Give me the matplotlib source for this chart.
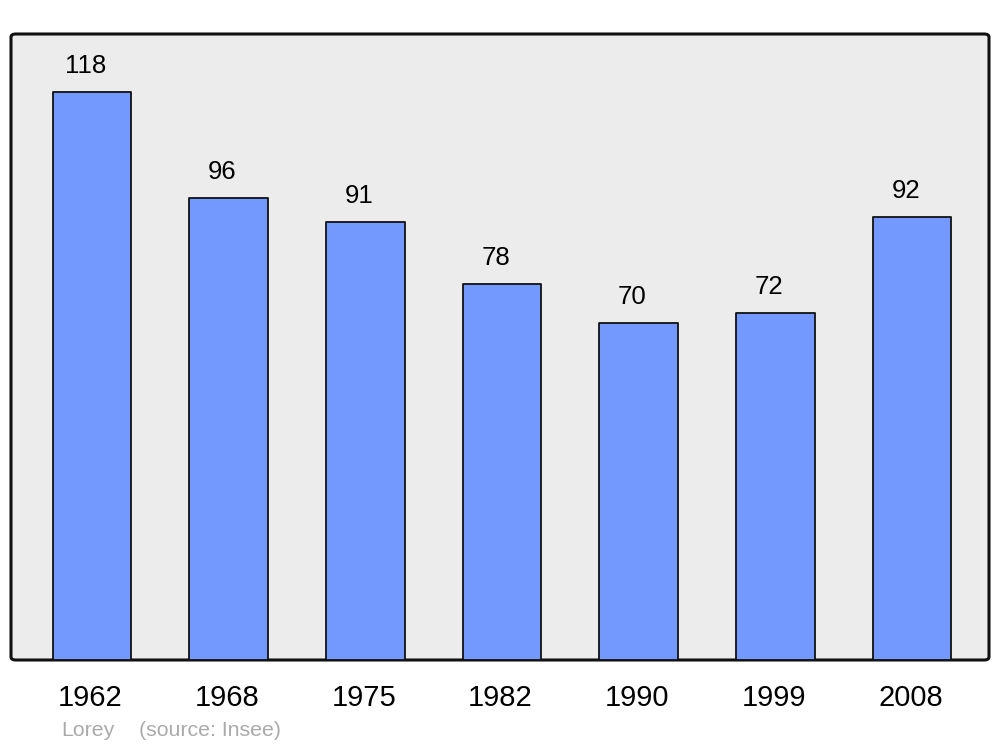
import matplotlib
matplotlib.use("Agg")
import matplotlib.pyplot as plt
from matplotlib.patches import FancyBboxPatch
from matplotlib.transforms import ScaledTranslation

years = ["1962", "1968", "1975", "1982", "1990", "1999", "2008"]
population = [118, 96, 91, 78, 70, 72, 92]
commune = "Lorey"
source = "(source: Insee)"

plt.rcParams['font.family'] = ['Liberation Sans', 'DejaVu Sans']

fig = plt.figure(figsize=(10, 7.47), dpi=100)
ax = fig.add_axes([0.011, 1 - 660/747, 0.978, (660-34)/747])
ax.set_facecolor('none')

frame = FancyBboxPatch((0, 0), 1, 1, boxstyle="round,pad=0,rounding_size=0.005",
                       transform=ax.transAxes, facecolor='#ececec', edgecolor='#111111',
                       linewidth=2.2, zorder=0, clip_on=False)
ax.add_patch(frame)

x = list(range(len(years)))
bars = ax.bar(x, population, width=0.575, color='#7399ff', edgecolor='#111111',
              linewidth=1.3, zorder=2)
for b in bars:
    b.set_joinstyle('round')

for xi, v in zip(x, population):
    ax.annotate(str(v), (xi, v), xytext=(-4.5, 18.8), textcoords='offset points',
                ha='center', va='center', fontsize=18.5, color='black')

ax.set_xlim(-0.593, 6.563)
ax.set_ylim(0, 130)
ax.set_xticks(x)
ax.set_xticklabels(years, fontsize=21)
ax.tick_params(axis='x', length=0, pad=17)
offset = ScaledTranslation(-1.5/100, 0, fig.dpi_scale_trans)
for lab in ax.get_xticklabels():
    lab.set_transform(lab.get_transform() + offset)
ax.set_yticks([])
for s in ax.spines.values():
    s.set_visible(False)

fig.text(61/1000, 1 - 731/747, commune, fontsize=15.3, color='#aaaaaa', va='center', ha='left')
fig.text(139/1000, 1 - 731/747, source, fontsize=15.3, color='#aaaaaa', va='center', ha='left')

fig.savefig("out.png", dpi=100)
